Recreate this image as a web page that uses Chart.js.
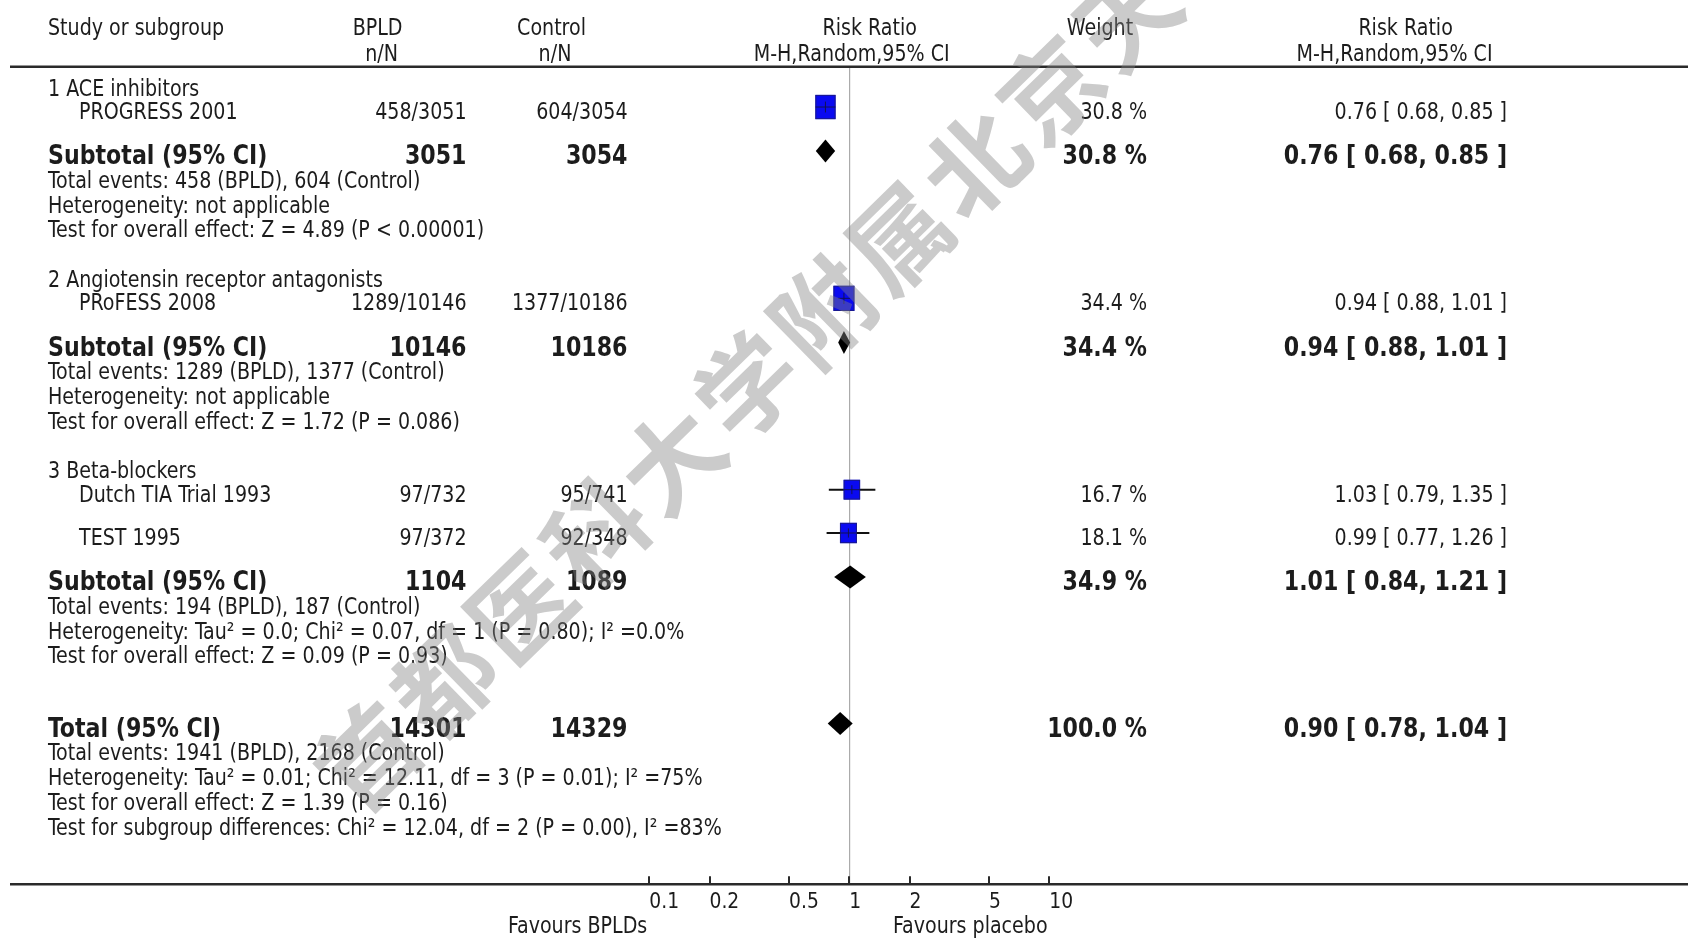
<!DOCTYPE html>
<html>
<head>
<meta charset="utf-8">
<title>Blood pressure lowering drugs vs control: risk ratio forest plot</title>
<script src="https://cdn.jsdelivr.net/npm/chart.js@4.4.1/dist/chart.umd.min.js"></script>
<style>
  html, body { margin: 0; padding: 0; background: #ffffff; }
  #wrap { width: 1688px; height: 939px; position: relative; }
</style>
</head>
<body>
<div id="wrap"><canvas id="forest"></canvas></div>
<script>
// ---- Subgroups and trials ----
const groupNames = ['1 ACE inhibitors', '2 Angiotensin receptor antagonists', '3 Beta-blockers'];
const studyNames = ['PROGRESS 2001', 'PRoFESS 2008', 'Dutch TIA Trial 1993', 'TEST 1995'];
const studyGroup = [0, 1, 2, 2];
const bpldEvents = [458, 1289, 97, 97];
const bpldTotal = [3051, 10146, 732, 372];
const ctrlEvents = [604, 1377, 95, 92];
const ctrlTotal = [3054, 10186, 741, 348];
const studyRR = [0.76, 0.94, 1.03, 0.99];
const studyLo = [0.68, 0.88, 0.79, 0.77];
const studyHi = [0.85, 1.01, 1.35, 1.26];
const studyWeight = [30.8, 34.4, 16.7, 18.1];

// ---- Subgroup pooled results ----
const subRR = [0.76, 0.94, 1.01];
const subLo = [0.68, 0.88, 0.84];
const subHi = [0.85, 1.01, 1.21];
const subWeight = [30.8, 34.4, 34.9];
const subBpldTotal = [3051, 10146, 1104];
const subCtrlTotal = [3054, 10186, 1089];
const subBpldEvents = [458, 1289, 194];
const subCtrlEvents = [604, 1377, 187];
const subHeterogeneity = ['not applicable', 'not applicable', 'Tau² = 0.0; Chi² = 0.07, df = 1 (P = 0.80); I² =0.0%'];
const subOverallEffect = ['Z = 4.89 (P < 0.00001)', 'Z = 1.72 (P = 0.086)', 'Z = 0.09 (P = 0.93)'];

// ---- Overall pooled result ----
const totalRR = [0.90];
const totalLo = [0.78];
const totalHi = [1.04];
const totalWeight = [100.0];
const totalN = [14301, 14329];
const totalEvents = [1941, 2168];
const totalHeterogeneity = 'Tau² = 0.01; Chi² = 12.11, df = 3 (P = 0.01); I² =75%';
const totalOverallEffect = 'Z = 1.39 (P = 0.16)';
const subgroupDifferences = 'Chi² = 12.04, df = 2 (P = 0.00), I² =83%';

// ---- Axis ----
const tickValues = [0.1, 0.2, 0.5, 1, 2, 5, 10];
const tickLabels = ['0.1', '0.2', '0.5', '1', '2', '5', '10'];
const favoursLeft = 'Favours BPLDs';
const favoursRight = 'Favours placebo';

// ---- Text helpers ----
const FONT = '"DejaVu Sans Condensed", "DejaVu Sans", sans-serif';
const nOfN = (e, n) => e + '/' + n;
const rrText = (r, l, h) => r.toFixed(2) + ' [ ' + l.toFixed(2) + ', ' + h.toFixed(2) + ' ]';
const wText = w => w.toFixed(1) + ' %';

// ---- Row layout, in line units down from the header rule ----
const GAP = { first: 0.667, headingToStudy: 0.95, studyToStudy: 1.75, studyToSub: 1.78, line: 1.0, infoToHeading: 2.0, infoToTotal: 2.92 };
const rows = [];
let cursor = GAP.first;
groupNames.forEach((name, gi) => {
  if (gi > 0) cursor += GAP.infoToHeading;
  rows.push({ kind: 'heading', y: cursor, text: name });
  let first = true;
  studyNames.forEach((s, si) => {
    if (studyGroup[si] !== gi) return;
    cursor += first ? GAP.headingToStudy : GAP.studyToStudy;
    first = false;
    rows.push({ kind: 'study', y: cursor, idx: si });
  });
  cursor += GAP.studyToSub;
  rows.push({ kind: 'subtotal', y: cursor, idx: gi });
  [
    'Total events: ' + subBpldEvents[gi] + ' (BPLD), ' + subCtrlEvents[gi] + ' (Control)',
    'Heterogeneity: ' + subHeterogeneity[gi],
    'Test for overall effect: ' + subOverallEffect[gi]
  ].forEach(t => { cursor += GAP.line; rows.push({ kind: 'info', y: cursor, text: t }); });
});
cursor += GAP.infoToTotal;
rows.push({ kind: 'total', y: cursor });
[
  'Total events: ' + totalEvents[0] + ' (BPLD), ' + totalEvents[1] + ' (Control)',
  'Heterogeneity: ' + totalHeterogeneity,
  'Test for overall effect: ' + totalOverallEffect,
  'Test for subgroup differences: ' + subgroupDifferences
].forEach(t => { cursor += GAP.line; rows.push({ kind: 'info', y: cursor, text: t }); });

const studyPoints = rows.filter(r => r.kind === 'study').map(r => ({
  x: studyRR[r.idx], y: r.y, lo: studyLo[r.idx], hi: studyHi[r.idx], w: studyWeight[r.idx]
}));
const pooledPoints = rows.filter(r => r.kind === 'subtotal' || r.kind === 'total').map(r =>
  r.kind === 'subtotal'
    ? { x: subRR[r.idx], y: r.y, lo: subLo[r.idx], hi: subHi[r.idx] }
    : { x: totalRR[0], y: r.y, lo: totalLo[0], hi: totalHi[0] }
);

// ---- Column positions ----
const COL = { left: 48, indent: 79, bpld: 466.5, ctrl: 627.5, weight: 1147, rr: 1507 };
const NORMAL = 21.2, BOLD = 24.6, TALL = 1.1;

function drawText(ctx, s, x, cy, align, bold) {
  const size = bold ? BOLD : NORMAL;
  ctx.save();
  ctx.font = (bold ? 'bold ' : '') + size + 'px ' + FONT;
  ctx.textAlign = align;
  ctx.textBaseline = 'alphabetic';
  ctx.translate(x, cy);
  ctx.scale(1, TALL);
  ctx.fillText(s, 0, 0.3645 * size);
  ctx.restore();
}

// Draws the CI whiskers, weighted squares and pooled diamonds
const forestMarks = {
  id: 'forestMarks',
  afterDatasetsDraw(chart) {
    const ctx = chart.ctx;
    const xs = chart.scales.x;
    ctx.save();
    const sMeta = chart.getDatasetMeta(0);
    sMeta.data.forEach((el, i) => {
      const d = chart.data.datasets[0].data[i];
      const x0 = xs.getPixelForValue(d.lo), x1 = xs.getPixelForValue(d.hi);
      const side = 6.45 * Math.cbrt(d.w);
      const hw = side / 2, hh = side * 1.2 / 2;
      ctx.strokeStyle = '#111';
      ctx.lineWidth = 2;
      ctx.beginPath(); ctx.moveTo(x0, el.y); ctx.lineTo(x1, el.y); ctx.stroke();
      ctx.fillStyle = '#0a0af0';
      ctx.fillRect(el.x - hw, el.y - hh, side, hh * 2);
      ctx.strokeStyle = '#1a1a8a';
      ctx.lineWidth = 1;
      ctx.strokeRect(el.x - hw + 0.5, el.y - hh + 0.5, side - 1, hh * 2 - 1);
      ctx.strokeStyle = 'rgba(20,20,60,0.85)';
      ctx.beginPath();
      ctx.moveTo(Math.max(x0, el.x - hw), el.y); ctx.lineTo(Math.min(x1, el.x + hw), el.y);
      ctx.moveTo(el.x, el.y - hh * 0.45); ctx.lineTo(el.x, el.y + hh * 0.45);
      ctx.stroke();
    });
    const pMeta = chart.getDatasetMeta(1);
    pMeta.data.forEach((el, i) => {
      const d = chart.data.datasets[1].data[i];
      const x0 = xs.getPixelForValue(d.lo), x1 = xs.getPixelForValue(d.hi);
      const h = 11.5;
      ctx.fillStyle = '#000';
      ctx.beginPath();
      ctx.moveTo(x0, el.y); ctx.lineTo(el.x, el.y - h); ctx.lineTo(x1, el.y); ctx.lineTo(el.x, el.y + h);
      ctx.closePath(); ctx.fill();
    });
    ctx.restore();
  },
  afterDraw(chart) {
    const ctx = chart.ctx;
    const xs = chart.scales.x, ys = chart.scales.y;
    const top = chart.chartArea.top;
    const W = chart.width;
    ctx.save();

    // header and axis rules
    ctx.strokeStyle = '#2a2a2a';
    ctx.lineWidth = 2.5;
    ctx.beginPath(); ctx.moveTo(10, top - 0.3); ctx.lineTo(W, top - 0.3); ctx.stroke();
    const axisY = xs.top;
    ctx.beginPath(); ctx.moveTo(10, axisY); ctx.lineTo(W, axisY); ctx.stroke();
    ctx.lineWidth = 2;
    xs.ticks.forEach(t => {
      const px = Math.round(xs.getPixelForValue(t.value));
      ctx.beginPath(); ctx.moveTo(px, axisY); ctx.lineTo(px, axisY - 8); ctx.stroke();
    });

    ctx.fillStyle = '#1c1c1c';
    // column headers
    drawText(ctx, 'Study or subgroup', COL.left, top - 40.3, 'left', false);
    drawText(ctx, 'BPLD', 377.6, top - 40.3, 'center', false);
    drawText(ctx, 'n/N', 381.6, top - 15, 'center', false);
    drawText(ctx, 'Control', 551.5, top - 40.3, 'center', false);
    drawText(ctx, 'n/N', 555, top - 15, 'center', false);
    drawText(ctx, 'Risk Ratio', 869.7, top - 40.3, 'center', false);
    drawText(ctx, 'M-H,Random,95% CI', 851.7, top - 15, 'center', false);
    drawText(ctx, 'Weight', 1100, top - 40.3, 'center', false);
    drawText(ctx, 'Risk Ratio', 1405.6, top - 40.3, 'center', false);
    drawText(ctx, 'M-H,Random,95% CI', 1394.5, top - 15, 'center', false);

    // table rows
    rows.forEach(r => {
      const cy = ys.getPixelForValue(r.y) + 3.5;
      if (r.kind === 'heading' || r.kind === 'info') {
        drawText(ctx, r.text, COL.left, cy, 'left', false);
      } else if (r.kind === 'study') {
        const i = r.idx;
        drawText(ctx, studyNames[i], COL.indent, cy, 'left', false);
        drawText(ctx, nOfN(bpldEvents[i], bpldTotal[i]), COL.bpld, cy, 'right', false);
        drawText(ctx, nOfN(ctrlEvents[i], ctrlTotal[i]), COL.ctrl, cy, 'right', false);
        drawText(ctx, wText(studyWeight[i]), COL.weight, cy, 'right', false);
        drawText(ctx, rrText(studyRR[i], studyLo[i], studyHi[i]), COL.rr, cy, 'right', false);
      } else if (r.kind === 'subtotal') {
        const i = r.idx;
        drawText(ctx, 'Subtotal (95% CI)', COL.left, cy, 'left', true);
        drawText(ctx, String(subBpldTotal[i]), COL.bpld, cy, 'right', true);
        drawText(ctx, String(subCtrlTotal[i]), COL.ctrl, cy, 'right', true);
        drawText(ctx, wText(subWeight[i]), COL.weight, cy, 'right', true);
        drawText(ctx, rrText(subRR[i], subLo[i], subHi[i]), COL.rr, cy, 'right', true);
      } else if (r.kind === 'total') {
        drawText(ctx, 'Total (95% CI)', COL.left, cy, 'left', true);
        drawText(ctx, String(totalN[0]), COL.bpld, cy, 'right', true);
        drawText(ctx, String(totalN[1]), COL.ctrl, cy, 'right', true);
        drawText(ctx, wText(totalWeight[0]), COL.weight, cy, 'right', true);
        drawText(ctx, rrText(totalRR[0], totalLo[0], totalHi[0]), COL.rr, cy, 'right', true);
      }
    });

    // favours labels under the axis
    drawText(ctx, favoursLeft, xs.getPixelForValue(0.1) - 2, axisY + 39.7, 'right', false);
    drawText(ctx, favoursRight, xs.getPixelForValue(1) + 43.7, axisY + 39.7, 'left', false);

    // institutional watermark
    const mark = '首都医科大学附属北京天坛医院';
    ctx.translate(368, 756);
    ctx.rotate(-44.3 * Math.PI / 180);
    ctx.font = 'bold 100px "Noto Sans CJK SC"';
    ctx.textAlign = 'center';
    ctx.textBaseline = 'middle';
    ctx.fillStyle = 'rgba(130,130,130,0.42)';
    Array.from(mark).forEach((ch, i) => ctx.fillText(ch, i * 106, 0));
    ctx.restore();
  }
};

new Chart(document.getElementById('forest'), {
  type: 'scatter',
  data: {
    datasets: [
      { label: 'Trials', data: studyPoints, pointRadius: 0, pointHoverRadius: 0 },
      { label: 'Pooled', data: pooledPoints, pointRadius: 0, pointHoverRadius: 0 }
    ]
  },
  options: {
    responsive: true,
    maintainAspectRatio: false,
    animation: false,
    layout: { padding: { left: 449.3, right: 438.7, top: 67, bottom: 0 } },
    plugins: { legend: { display: false }, tooltip: { enabled: false } },
    scales: {
      x: {
        type: 'logarithmic',
        position: 'bottom',
        min: 0.01,
        max: 100,
        afterBuildTicks: scale => { scale.ticks = tickValues.map(v => ({ value: v })); },
        afterFit: scale => { scale.height = 54.7; },
        border: { display: false },
        grid: {
          drawTicks: false,
          drawOnChartArea: true,
          lineWidth: 1.2,
          color: c => (c.tick && c.tick.value === 1) ? '#ababab' : 'rgba(0,0,0,0)'
        },
        ticks: {
          autoSkip: false,
          maxRotation: 0,
          align: 'start',
          padding: 6,
          color: '#1c1c1c',
          font: { family: FONT, size: 20.8 },
          callback: (v, i) => tickLabels[i]
        }
      },
      y: {
        type: 'linear',
        reverse: true,
        min: 0,
        max: 33.02,
        display: false
      }
    }
  },
  plugins: [forestMarks]
});
</script>
</body>
</html>
